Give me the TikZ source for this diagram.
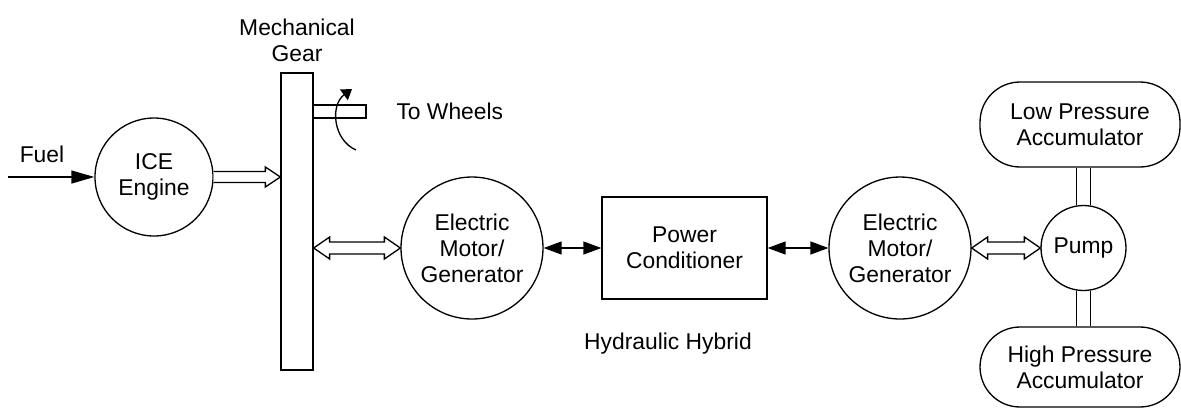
\documentclass[tikz,border=0pt]{standalone}
\usepackage{fontspec}
\setmainfont{Liberation Sans}
\usetikzlibrary{calc, arrows.meta}

% hollow block arrows, horizontal, from #1 to #2
\newcommand{\fatarrow}[2]{%
  \draw[fill=white] let \p1=(#1), \p2=(#2) in
    (\x1,\y1+0.11cm) -- (\x2-0.3cm,\y1+0.11cm) -- (\x2-0.3cm,\y1+0.2cm) -- (\x2,\y1)
    -- (\x2-0.3cm,\y1-0.2cm) -- (\x2-0.3cm,\y1-0.11cm) -- (\x1,\y1-0.11cm);}
\newcommand{\dfatarrow}[2]{%
  \draw[fill=white] let \p1=(#1), \p2=(#2) in
    (\x1,\y1) -- (\x1+0.32cm,\y1+0.22cm) -- (\x1+0.32cm,\y1+0.12cm) -- (\x2-0.32cm,\y1+0.12cm)
    -- (\x2-0.32cm,\y1+0.22cm) -- (\x2,\y1) -- (\x2-0.32cm,\y1-0.22cm) -- (\x2-0.32cm,\y1-0.12cm)
    -- (\x1+0.32cm,\y1-0.12cm) -- (\x1+0.32cm,\y1-0.22cm) -- cycle;}

\begin{document}
\begin{tikzpicture}[x=0.02cm, y=-0.02cm, line width=0.75pt,
    font=\fontsize{13}{14.8}\selectfont,
    disc/.style={draw, circle, inner sep=0pt, align=center},
    block/.style={draw, rectangle, inner sep=0pt, align=center},
    tank/.style={draw, rectangle, rounded corners=0.8cm, minimum width=4cm, inner sep=0pt, align=center},
    fueltip/.style={-{Triangle[length=0.46cm,width=0.26cm]}},
    bothtip/.style={{Triangle[length=0.36cm,width=0.26cm]}-{Triangle[length=0.36cm,width=0.26cm]}}]

  \useasboundingbox (0,0) rectangle (1181,407);

  % engine and gear
  \node[disc, minimum size=2.36cm] (ice) at (154,177) {ICE\\Engine};
  \node (fuel) at (42,154) {Fuel};
  \coordinate (fuelin) at (8,177);
  \draw[fueltip] (fuelin) -- (ice);
  \node[block, minimum width=0.64cm, minimum height=5.94cm] (gear) at (297,221.5) {};
  \node[align=center] (gearlbl) at (297,40) {Mechanical\\Gear};
  \draw[fill=white] (313,105) rectangle (366,118);
  \draw[-{Triangle[length=0.2cm,width=0.26cm]}] (356,150) .. controls (333,140) and (330,105) .. (352,89);
  \node[anchor=west] (wheels) at (390,111) {To Wheels};
  \fatarrow{ice.east}{gear.west |- ice}

  % electric path
  \node[disc, minimum size=2.84cm] (emga) at (472,248) {Electric\\Motor/\\Generator};
  \node[block, minimum width=3.3cm, minimum height=2.04cm] (pc) at (684.5,248) {Power\\Conditioner};
  \node[disc, minimum size=2.84cm] (emgb) at (900,248) {Electric\\Motor/\\Generator};
  \node (hybrid) at (668,344) {Hydraulic Hybrid};
  \dfatarrow{gear.east |- emga}{emga.west}
  \draw[bothtip] (emga) -- (pc);
  \draw[bothtip] (pc) -- (emgb);

  % hydraulic side
  \node[disc, minimum size=1.7cm] (pump) at (1083.5,248) {Pump};
  \node[tank, minimum height=1.7cm] (lowacc) at (1080,124.5) {Low Pressure\\Accumulator};
  \node[tank, minimum height=1.6cm] (highacc) at (1080,367) {High Pressure\\Accumulator};
  \dfatarrow{emgb.east}{pump.west}
  \draw (pump.99) -- (pump.99 |- lowacc.south) (pump.81) -- (pump.81 |- lowacc.south);
  \draw (pump.261) -- (pump.261 |- highacc.north) (pump.279) -- (pump.279 |- highacc.north);
\end{tikzpicture}
\end{document}
